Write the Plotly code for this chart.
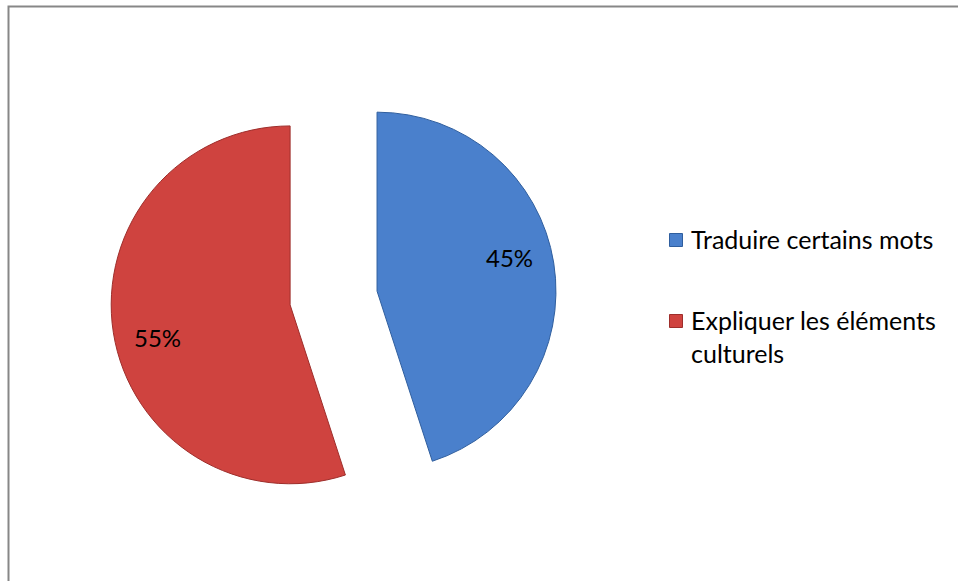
import math
import plotly.graph_objects as go

# Survey answers and their shares (percent)
categories = ["Traduire certains mots", "Expliquer les éléments culturels"]
legend_labels = ["Traduire certains mots", "Expliquer les éléments<br>culturels"]
shares = [45, 55]
colors = ["#4A80CC", "#CF433F"]
edge_colors = ["#2F5E9E", "#9E2E2B"]

W, H = 958, 581
FONT = "Lato"
PULL = 0.246
DOM_X = [0.1155, 0.5809]
DOM_Y = [0.1033, 0.871]

fig = go.Figure(
    go.Pie(
        labels=categories,
        values=shares,
        sort=False,
        direction="clockwise",
        rotation=0,
        pull=[PULL] * len(shares),
        marker=dict(colors=colors, line=dict(color=edge_colors, width=1)),
        textinfo="none",
        domain=dict(x=DOM_X, y=DOM_Y),
        showlegend=False,
        hoverinfo="label+percent",
    )
)

# Percentage labels, placed along each slice's angle inside the pulled slice
dom_w = (DOM_X[1] - DOM_X[0]) * W
dom_h = (DOM_Y[1] - DOM_Y[0]) * H
radius = min(dom_w, dom_h) / 2 / (1 + PULL)
cx = (DOM_X[0] + DOM_X[1]) / 2 * W
cy = (1 - (DOM_Y[0] + DOM_Y[1]) / 2) * H
total = sum(shares)
start = 0.0
for v in shares:
    span = 360.0 * v / total
    mid = math.radians(start + span / 2)
    lab = math.radians(start + span / 2 - 5)
    sx = cx + PULL * radius * math.sin(mid)
    sy = cy - PULL * radius * math.cos(mid)
    lx = sx + 0.765 * radius * math.sin(lab)
    ly = sy - 0.765 * radius * math.cos(lab)
    fig.add_annotation(
        xref="paper", yref="paper", x=lx / W, y=1 - ly / H,
        text=f"{100 * v / total:.0f}%", showarrow=False,
        xanchor="center", yanchor="middle",
        font=dict(family=FONT, size=24, color="#000000"),
    )
    start += span

# Chart-area frame (right and bottom edges fall outside the canvas)
fig.add_shape(
    type="rect", xref="paper", yref="paper",
    x0=8.5 / W, x1=1.05, y0=-0.05, y1=1 - 6.5 / H,
    line=dict(color="#878787", width=2), fillcolor="rgba(0,0,0,0)",
)

# Legend drawn as swatches plus text
leg_x_sw = 676
leg_x_txt = 689
leg_rows = [240, 321]
sw = 13
for lab, col, edge, yc in zip(legend_labels, colors, edge_colors, leg_rows):
    fig.add_shape(
        type="rect", xref="paper", yref="paper",
        x0=(leg_x_sw - sw / 2) / W, x1=(leg_x_sw + sw / 2) / W,
        y0=1 - (yc + sw / 2) / H, y1=1 - (yc - sw / 2) / H,
        line=dict(color=edge, width=1), fillcolor=col,
    )
    fig.add_annotation(
        xref="paper", yref="paper", x=leg_x_txt / W, y=1 - (yc - 18) / H,
        text=lab, showarrow=False, xanchor="left", yanchor="top", align="left",
        font=dict(family=FONT, size=25, color="#000000"),
    )

fig.update_layout(
    width=W, height=H,
    margin=dict(l=0, r=0, t=0, b=0),
    paper_bgcolor="#FFFFFF",
    plot_bgcolor="#FFFFFF",
)

fig.write_html("out.html")
